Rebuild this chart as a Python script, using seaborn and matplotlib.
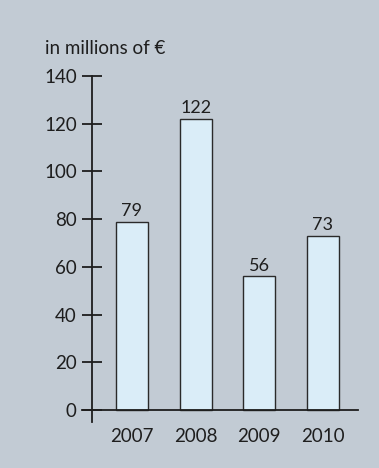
import matplotlib
matplotlib.use("Agg")
import matplotlib.pyplot as plt
import seaborn as sns
import pandas as pd

years = ["2007", "2008", "2009", "2010"]
values = [79, 122, 56, 73]
y_ticks = [0, 20, 40, 60, 80, 100, 120, 140]
unit_label = "in millions of €"

bg = "#c2cbd4"
bar_fill = "#daedf8"
ink = "#1e1e1e"

sns.set_style("white")
plt.rcParams['font.family'] = ['Lato', 'DejaVu Sans']

df = pd.DataFrame({"year": years, "value": values})

fig = plt.figure(figsize=(3.79, 4.68), dpi=100, facecolor=bg)
ax = fig.add_axes([82 / 379, 1 - 422 / 468, (358 - 82) / 379, (422 - 76) / 468])
ax.set_facecolor(bg)

sns.barplot(data=df, x="year", y="value", color=bar_fill, width=0.5,
            edgecolor="#2a2a2a", linewidth=1.0, saturation=1, ax=ax)

for c in ax.containers:
    ax.bar_label(c, padding=2, fontsize=13, color=ink)

ax.set_xlim(-0.785, 3.55)
ax.set_ylim(-5, 140)

yaxis_x = -0.628
ax.spines[["top", "right"]].set_visible(False)
ax.spines["left"].set_position(("data", yaxis_x))
ax.spines["left"].set_bounds(-5, 140)
ax.spines["bottom"].set_position(("data", 0))
for s in ("left", "bottom"):
    ax.spines[s].set_color(ink)
    ax.spines[s].set_linewidth(1.3)
ax.set_axisbelow(False)

ax.set_yticks(y_ticks)
ax.tick_params(axis="y", left=True, direction="inout", length=14, width=1.3,
               color=ink, labelsize=13.5, labelcolor=ink, pad=4)
ax.tick_params(axis="x", bottom=False, length=0, labelsize=13.5,
               labelcolor=ink, pad=13)
ax.set_xlabel("")
ax.set_ylabel("")

fig.text(45 / 379, 1 - 48 / 468, unit_label, fontsize=13.5, color=ink,
         ha="left", va="center")

fig.savefig("out.png", dpi=100, facecolor=bg)
